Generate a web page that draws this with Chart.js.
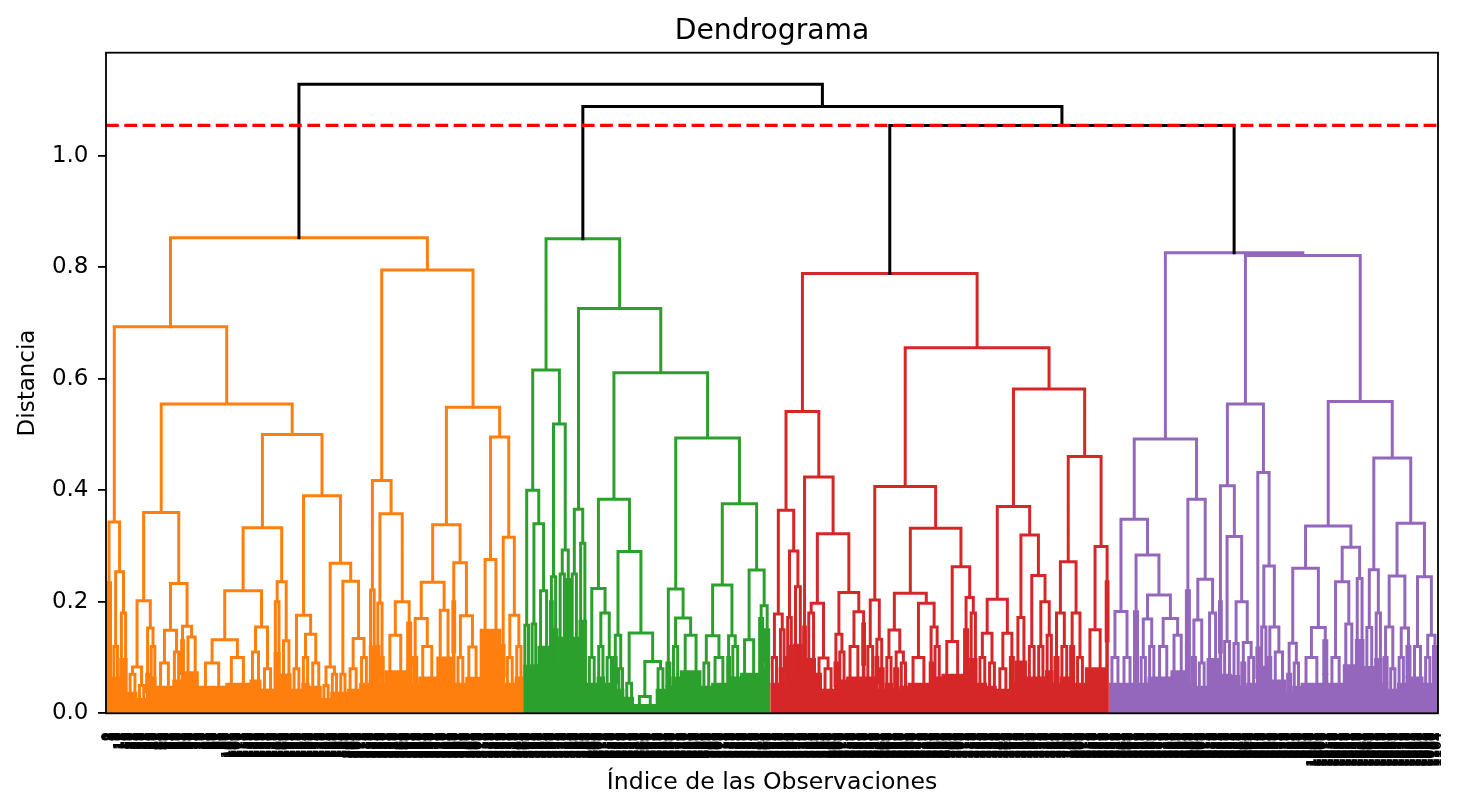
<!DOCTYPE html>
<html>
<head>
<meta charset="utf-8">
<script src="https://cdn.jsdelivr.net/npm/chart.js@4.4.1/dist/chart.umd.min.js"></script>
<style>
  html, body { margin: 0; padding: 0; background: #fff; }
</style>
</head>
<body>
<canvas id="chart" width="1460" height="812"></canvas>
<script>
// cluster colours (scipy default palette) and the black used above the cut
const clusterColors = ['#ff7f0e', '#2ca02c', '#d62728', '#9467bd'];
const aboveColor = '#000000';

// cut line and the three merges above it: red+purple, green+(..), orange+(..)
const cutHeight = 1.0545;
const topHeights = [1.0545, 1.0885, 1.1285];
const yTicks = [0, 0.2, 0.4, 0.6, 0.8, 1.0];

// trees: [height, left, right] is a merge, [height, n] is a tight group of n leaves
const orangeTree = [0.853,
  [0.6935,
    [0.343, [0.234, 5], [0.254, [0.12, 6], [0.18, 7]]],
    [0.5548,
      [0.360,
        [0.202, [0.083, [0.07, 8], [0.05, 7]], [0.153, [0.07, 3], [0.12, 6]]],
        [0.233, [0.149, [0.09, 13], [0.11, 7]], [0.156, [0.13, 3], [0.137, 12]]]],
      [0.5,
        [0.333,
          [0.22, [0.132, [0.09, 22], [0.1, 20]], [0.155, [0.11, 10], [0.08, 10]]],
          [0.236, [0.2, 6], [0.13, 9]]],
        [0.39,
          [0.176, [0.08, 8], [0.142, [0.1, 7], [0.09, 10]]],
          [0.269, [0.083, [0.05, 7], [0.07, 7]], [0.237, [0.07, 7], [0.134, [0.08, 10], [0.1, 8]]]]]]]],
  [0.795,
    [0.4176, [0.221, 6], [0.358, [0.198, [0.12, 3], [0.1, 4]], [0.2, [0.14, 18], [0.162, 5]]]],
    [0.549,
      [0.338, [0.235, [0.17, [0.1, 5], [0.12, 15]], [0.185, 13]], [0.27, [0.2, 3], [0.175, [0.1, 8], [0.119, 12]]]],
      [0.4955, [0.276, 18], [0.316, [0.122, 3], [0.176, [0.1, 8], [0.12, 7]]]]]]];

const greenTree = [0.851,
  [0.616,
    [0.4, [0.158, 6], [0.34, [0.16, 6], [0.22, 10]]],
    [0.519, [0.245, [0.2, 3], [0.15, 4]], [0.293, [0.25, 7], [0.24, 3]]]],
  [0.726,
    [0.366, [0.25, 7], [0.305, 7]],
    [0.611,
      [0.384,
        [0.224, [0.1, 8], [0.18, [0.12, 7], [0.1, 7]]],
        [0.29, [0.14, [0.1, 3], [0.08, 6]], [0.144, [0.054, 8], [0.093, [0.03, 18], [0.08, 8]]]]],
      [0.494,
        [0.223, [0.09, 5], [0.171, [0.12, 7], [0.14, 18]]],
        [0.376,
          [0.23, [0.139, [0.09, 8], [0.1, 13]], [0.139, [0.1, 3], [0.12, 8]]],
          [0.257, [0.132, 15], [0.193, [0.17, 5], [0.15, 5]]]]]]]];

const redTree = [0.7887,
  [0.5415,
    [0.364, [0.178, [0.1, 7], [0.15, 6]], [0.291, [0.172, [0.1, 3], [0.12, 3]], [0.227, 8]]],
    [0.4237, [0.155, 3],
      [0.322,
        [0.1975, [0.18, 8], [0.099, [0.07, 5], [0.08, 10]]],
        [0.2166, [0.142, [0.09, 3], [0.11, 7]], [0.182, [0.12, 13], [0.16, 3]]]]]],
  [0.6557,
    [0.4068,
      [0.2034, [0.12, 8], [0.133, [0.1, 3], [0.08, 5]]],
      [0.332,
        [0.2154, [0.1495, [0.1, 7], [0.11, [0.08, 5], [0.09, 7]]], [0.1975, [0.1, 18], [0.155, [0.09, 3], [0.12, 7]]]],
        [0.263, [0.1286, 18], [0.2075, [0.15, 5], [0.18, 7]]]]],
    [0.5817,
      [0.371,
        [0.2047, [0.1436, [0.1, 8], [0.09, 8]], [0.1436, [0.08, 10], [0.1, 5]]],
        [0.32, [0.172, 10], [0.247, [0.12, 8], [0.2, [0.12, 7], [0.14, 7]]]]],
      [0.4607,
        [0.272, [0.18, [0.1, 5], [0.12, 8]], [0.18, [0.12, 5], [0.1, 8]]],
        [0.299, [0.15, 17], [0.236, 3]]]]]];

const purpleTree = [0.8259,
  [0.492,
    [0.348, [0.1824, [0.1, 10], [0.1, 10]],
      [0.284, [0.182, 5], [0.2124, [0.169, [0.1, 7], [0.12, 7]], [0.17, [0.12, 12], [0.14, 12]]]]],
    [0.384, [0.22, 5], [0.2406, [0.1675, [0.1, 5], [0.09, 8]], [0.18, 10]]]],
  [0.821,
    [0.5548,
      [0.408, [0.2, 3], [0.317, [0.1286, 8], [0.2, [0.125, 7], [0.127, [0.09, 5], [0.1, 8]]]]],
      [0.432, [0.117, 3], [0.264, [0.155, 7], [0.155, [0.1, 3], [0.11, 12]]]]],
    [0.5594,
      [0.336,
        [0.26, [0.1257, [0.07, 5], [0.09, 7]], [0.154, [0.1, 18], [0.13, 5]]],
        [0.298, [0.236, [0.1, 12], [0.16, 10]], [0.242, 8]]],
      [0.4578,
        [0.2573, [0.154, 8], [0.18, 7]],
        [0.341,
          [0.2465, [0.155, [0.1, 5], [0.08, 7]], [0.153, [0.1, 7], [0.12, 5]]],
          [0.245, [0.12, 10], [0.14, [0.1, 7], [0.12, 5]]]]]]]];

const trees = [orangeTree, greenTree, redTree, purpleTree];

// ---- build the link lines (scipy style: leaf i sits at 5 + 10*i) ----
const MASS_SHARE = 0.55;   // share of a tight group drawn as solid mass

const countLeaves = (node) => node.length === 2 ? node[1] : countLeaves(node[1]) + countLeaves(node[2]);
const nLeaves = trees.reduce((s, t) => s + countLeaves(t), 0);
const leafLabels = Array.from({ length: nLeaves }, (_, i) => String(i));
const leafTicks = leafLabels.map((_, i) => 5 + 10 * i);

const pushLink = (out, a, b, h) => {
    out.push({ x: a.x, y: a.h }, { x: a.x, y: h }, { x: b.x, y: h }, { x: b.x, y: b.h }, { x: b.x, y: null });
};

const walk = (node, start, links, mass) => {
    if (node.length === 2) {
        const [h, n] = node;
        const x0 = start * 10, x1 = (start + n) * 10;
        const m = h * MASS_SHARE;
        mass.push({ x: x0, y: 0 }, { x: x0, y: m }, { x: x1, y: m }, { x: x1, y: 0 });
        pushLink(links, { x: x0 + (x1 - x0) / 4, h: m }, { x: x0 + 3 * (x1 - x0) / 4, h: m }, h);
        return { x: (x0 + x1) / 2, h: h, n: n };
    }
    const [h, left, right] = node;
    const a = walk(left, start, links, mass);
    const b = walk(right, start + a.n, links, mass);
    pushLink(links, a, b, h);
    return { x: (a.x + b.x) / 2, h: h, n: a.n + b.n };
};

const datasets = [];
const tops = [];
let start = 0;
trees.forEach((tree, k) => {
    const links = [], mass = [];
    const top = walk(tree, start, links, mass);
    start += top.n;
    tops.push(top);
    datasets.push({
        data: links, borderColor: clusterColors[k], borderWidth: 3, xAxisID: 'x', yAxisID: 'y',
        borderJoinStyle: 'miter', borderCapStyle: 'square', order: 2
    });
    datasets.push({
        data: mass, fill: 'origin', backgroundColor: clusterColors[k], xAxisID: 'x', yAxisID: 'y',
        borderColor: 'transparent', borderWidth: 0, order: 3
    });
});

const black = [];
const join = (a, b, h) => { pushLink(black, a, b, h); return { x: (a.x + b.x) / 2, h: h }; };
const rp = join(tops[2], tops[3], topHeights[0]);
const grp = join(tops[1], rp, topHeights[1]);
join(tops[0], grp, topHeights[2]);
datasets.push({
    data: black, borderColor: aboveColor, borderWidth: 3, xAxisID: 'x', yAxisID: 'y',
    borderJoinStyle: 'miter', borderCapStyle: 'square', order: 1
});

datasets.push({
    data: [{ x: 0, y: cutHeight }, { x: nLeaves * 10, y: cutHeight }], xAxisID: 'x', yAxisID: 'y',
    borderColor: '#ff0000', borderWidth: 3.4, borderDash: [12.8, 5.5], order: 0
});

// frame round the plot, like the matplotlib spines
const frame = {
    id: 'frame',
    afterDatasetsDraw(chart) {
        const { ctx, chartArea: { left, top, right, bottom } } = chart;
        ctx.save();
        ctx.strokeStyle = '#000';
        ctx.lineWidth = 1.8;
        ctx.strokeRect(left, top, right - left, bottom - top);
        ctx.restore();
    }
};

Chart.defaults.font.family = '"DejaVu Sans", sans-serif';
Chart.defaults.color = '#000';

new Chart(document.getElementById('chart'), {
    type: 'line',
    data: { datasets },
    options: {
        responsive: false,
        animation: false,
        events: [],
        spanGaps: false,
        elements: { point: { radius: 0, hitRadius: 0 }, line: { tension: 0 } },
        layout: { padding: { left: 0, right: 22, top: 0, bottom: 0 } },
        plugins: {
            legend: { display: false },
            tooltip: { enabled: false },
            title: { display: false }
        },
        scales: {
            x: {
                type: 'linear', min: 0, max: nLeaves * 10,
                afterBuildTicks: (scale) => { scale.ticks = leafTicks.map(v => ({ value: v })); },
                afterFit: (scale) => { scale.height = 98.7; scale.paddingLeft = 0; scale.paddingRight = 0; },
                grid: { display: false, drawTicks: false },
                border: { display: false },
                ticks: {
                    autoSkip: false, minRotation: 90, maxRotation: 90, padding: 19,
                    font: { size: 12.5, weight: 'bold' }, color: '#000',
                    callback: (v, i) => leafLabels[i]
                },
                title: {
                    display: true, text: 'Índice de las Observaciones', color: '#000',
                    font: { size: 23.6 }, padding: { top: 0, bottom: 14.6 }
                }
            },
            y: {
                type: 'linear', min: 0, max: topHeights[2] * 1.05,
                afterBuildTicks: (scale) => { scale.ticks = yTicks.map(v => ({ value: v })); },
                afterFit: (scale) => { scale.width = 106; scale.paddingTop = 0; scale.paddingBottom = 0; },
                grid: { display: true, drawOnChartArea: false, drawTicks: true, tickLength: 8, color: '#000', lineWidth: 1.8 },
                border: { display: false },
                ticks: { padding: 9.5, font: { size: 23 }, color: '#000', callback: (v) => v.toFixed(1) },
                title: {
                    display: true, text: 'Distancia', color: '#000',
                    font: { size: 23 }, padding: { top: 14.5, bottom: 0 }
                }
            },
            // empty top axis, only there to centre the title over the plot
            xTop: {
                type: 'linear', position: 'top', display: true, min: 0, max: 1,
                afterFit: (scale) => { scale.height = 52.7; scale.paddingLeft = 0; scale.paddingRight = 0; },
                grid: { display: false, drawTicks: false },
                border: { display: false },
                ticks: { display: false },
                title: {
                    display: true, text: 'Dendrograma', color: '#000',
                    font: { size: 28.2 }, padding: { top: 14.3, bottom: 0 }
                }
            }
        }
    },
    plugins: [frame]
});
</script>
</body>
</html>
